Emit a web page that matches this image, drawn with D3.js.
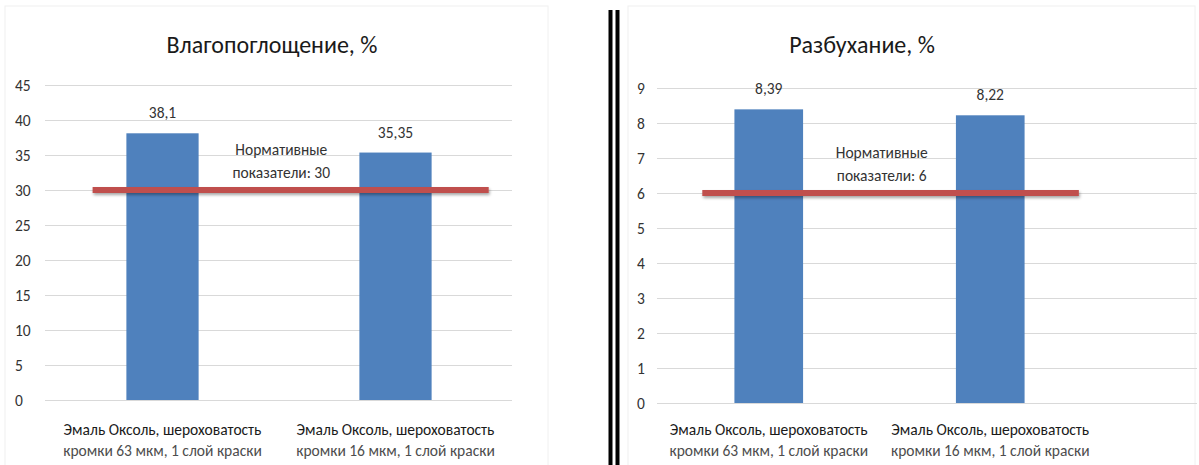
<!DOCTYPE html>
<html>
<head>
<meta charset="utf-8">
<script src="https://cdn.jsdelivr.net/npm/d3@7"></script>
<style>
    body { margin: 0; background: #fff; }
    svg text { font-family: Carlito, Lato, "Open Sans", "Noto Sans", sans-serif; }
</style>
</head>
<body>
<svg id="chart" width="1199" height="465"></svg>
<script>

//categories (two lines each)
var categoryLine1 = ['Эмаль Оксоль, шероховатость', 'Эмаль Оксоль, шероховатость'];
var categoryLine2 = ['кромки 63 мкм, 1 слой краски', 'кромки 16 мкм, 1 слой краски'];

//measured values
var moistureValues = [38.1, 35.35];
var swellValues = [8.39, 8.22];

//labels shown above bars
var moistureLabels = ['38,1', '35,35'];
var swellLabels = ['8,39', '8,22'];

//norm values
var moistureNorm = 30;
var swellNorm = 6;

//titles
var moistureTitle = 'Влагопоглощение, %';
var swellTitle = 'Разбухание, %';

//y tick values
var moistureTicks = [0, 5, 10, 15, 20, 25, 30, 35, 40, 45];
var swellTicks = [0, 1, 2, 3, 4, 5, 6, 7, 8, 9];

var svg = d3.select('#chart');

//shadow for the norm line
var defs = svg.append('defs');
var shadow = defs.append('filter').attr('id', 'shadow')
    .attr('x', '-5%').attr('y', '-100%').attr('width', '110%').attr('height', '300%');
shadow.append('feDropShadow')
    .attr('dx', 1).attr('dy', 2).attr('stdDeviation', 1.5)
    .attr('flood-color', '#000').attr('flood-opacity', 0.35);

var fs = 15.5;

//layout for each panel
var panels = [
    {
        title: moistureTitle, values: moistureValues, labels: moistureLabels,
        norm: moistureNorm, ticks: moistureTicks,
        left: 46, right: 512, gridRight: 512, top: 85, bottom: 400,
        titleX: 272, tickX: 15, frame: [5, 6, 548, 470]
    },
    {
        title: swellTitle, values: swellValues, labels: swellLabels,
        norm: swellNorm, ticks: swellTicks,
        left: 658, right: 1101, gridRight: 1197, top: 88, bottom: 403,
        titleX: 862, tickX: 637, frame: [628, 6, 1195, 470]
    }
];

var drawPanel = function(p) {
    var g = svg.append('g');

    //faint frame of the chart area
    g.append('rect')
        .attr('x', p.frame[0]).attr('y', p.frame[1])
        .attr('width', p.frame[2] - p.frame[0]).attr('height', p.frame[3] - p.frame[1])
        .attr('fill', 'none').attr('stroke', '#f0f0f0');

    var x = d3.scaleBand()
        .domain(d3.range(p.values.length))
        .range([p.left, p.right]);

    //category units, used for the norm line
    var xc = d3.scaleLinear()
        .domain([0, p.values.length])
        .range([p.left, p.right]);

    var y = d3.scaleLinear()
        .domain([0, d3.max(p.ticks)])
        .range([p.bottom, p.top]);

    //gridlines
    g.selectAll('.grid')
        .data(p.ticks)
        .enter().append('line')
        .attr('x1', p.left - 1).attr('x2', p.gridRight)
        .attr('y1', function(d) { return Math.round(y(d)) + 0.5; })
        .attr('y2', function(d) { return Math.round(y(d)) + 0.5; })
        .attr('stroke', '#d9d9d9').attr('stroke-width', 1);

    //tick labels
    g.selectAll('.tick')
        .data(p.ticks)
        .enter().append('text')
        .attr('x', p.tickX)
        .attr('y', function(d) { return y(d) + 5.5; })
        .attr('font-size', fs)
        .attr('fill', '#333')
        .text(function(d) { return d; });

    //bars
    var barW = x.bandwidth() * 0.31;
    g.selectAll('.bar')
        .data(p.values)
        .enter().append('rect')
        .attr('x', function(d, i) { return x(i) + (x.bandwidth() - barW) / 2; })
        .attr('y', function(d) { return y(d); })
        .attr('width', barW)
        .attr('height', function(d) { return y(0) - y(d); })
        .attr('fill', '#4f81bd');

    //value labels
    g.selectAll('.val')
        .data(p.values)
        .enter().append('text')
        .attr('x', function(d, i) { return x(i) + x.bandwidth() / 2; })
        .attr('y', function(d) { return y(d) - 15; })
        .attr('text-anchor', 'middle')
        .attr('font-size', fs)
        .attr('fill', '#333')
        .text(function(d, i) { return p.labels[i]; });

    //norm line (rect so the shadow filter has a real box)
    g.append('rect')
        .attr('x', xc(0.2)).attr('width', xc(1.9) - xc(0.2))
        .attr('y', y(p.norm) - 3).attr('height', 6)
        .attr('fill', '#c0504d')
        .attr('filter', 'url(#shadow)');

    //norm label
    var nx = xc(1.01);
    g.append('text')
        .attr('x', nx).attr('y', y(p.norm) - 35)
        .attr('text-anchor', 'middle').attr('font-size', fs).attr('fill', '#333')
        .text('Нормативные');
    g.append('text')
        .attr('x', nx).attr('y', y(p.norm) - 12)
        .attr('text-anchor', 'middle').attr('font-size', fs).attr('fill', '#333')
        .text('показатели: ' + p.norm);

    //category labels
    g.selectAll('.cat1')
        .data(categoryLine1)
        .enter().append('text')
        .attr('x', function(d, i) { return x(i) + x.bandwidth() / 2; })
        .attr('y', 435)
        .attr('text-anchor', 'middle').attr('font-size', fs).attr('fill', '#1a1a1a')
        .text(function(d) { return d; });
    g.selectAll('.cat2')
        .data(categoryLine2)
        .enter().append('text')
        .attr('x', function(d, i) { return x(i) + x.bandwidth() / 2; })
        .attr('y', 456)
        .attr('text-anchor', 'middle').attr('font-size', fs).attr('fill', '#4d4d4d')
        .text(function(d) { return d; });

    //title
    g.append('text')
        .attr('x', p.titleX).attr('y', 53)
        .attr('text-anchor', 'middle').attr('font-size', 24).attr('fill', '#1a1a1a')
        .text(p.title);
};

panels.forEach(drawPanel);

//double divider between charts
[610.5, 617.5].forEach(function(lx) {
    svg.append('line')
        .attr('x1', lx).attr('x2', lx)
        .attr('y1', 10).attr('y2', 465)
        .attr('stroke', '#000').attr('stroke-width', 4);
});

</script>
</body>
</html>
